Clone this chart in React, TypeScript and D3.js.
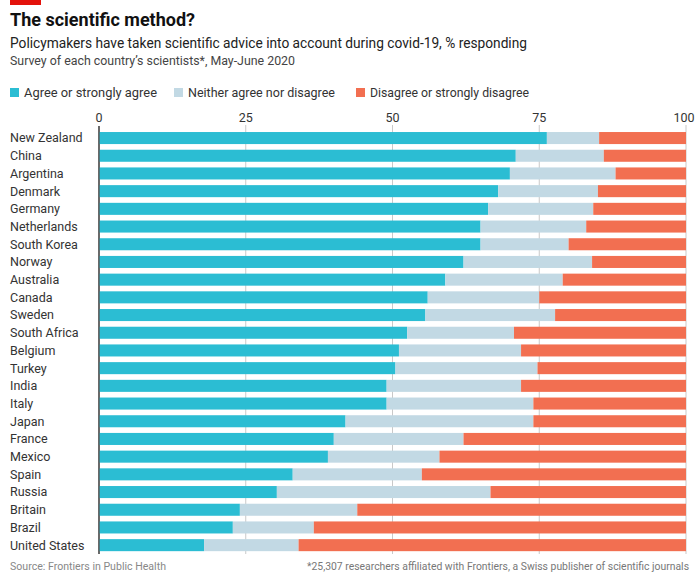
import React from "react";
import * as d3 from "d3";

const countries = ["New Zealand","China","Argentina","Denmark","Germany","Netherlands","South Korea","Norway","Australia","Canada","Sweden","South Africa","Belgium","Turkey","India","Italy","Japan","France","Mexico","Spain","Russia","Britain","Brazil","United States"];
const agree = [76.3,71,70,68,66.3,65,65,62.1,59,56,55.6,52.5,51.1,50.5,49,49,42,40,39,33,30.3,24,22.8,17.9];
const neither = [8.9,15,18,17,17.9,18,15,21.9,20,19,22.1,18.2,20.8,24.2,22.9,25,32,22.1,19,22,36.4,20,13.8,16.1];
const disagree = agree.map((a, i) => 100 - a - neither[i]);
const ticks = [0, 25, 50, 75, 100];
const seriesNames = ["Agree or strongly agree", "Neither agree nor disagree", "Disagree or strongly disagree"];
const colors = ["#2bbdd3", "#c2d9e4", "#f26f51"];

export default function App() {
  const W = 695, H = 574;
  const x = d3.scaleLinear().domain([0, 100]).range([99, 686]);
  const y = d3.scaleBand<string>().domain(countries).range([129.2, 554]).paddingInner(0.32).paddingOuter(0.16);
  const rows = countries.map((c, i) => ({ c, vals: [agree[i], neither[i], disagree[i]] }));
  const font = "Roboto, 'Open Sans', sans-serif";
  const legendX = [10, 174, 356];
  const legendLen = [133, 147, 159];
  return (
    <svg width={W} height={H} style={{ position: "absolute", left: 0, top: 0, background: "#fff" }} fontFamily={font}>
      <rect x={10} y={0} width={31} height={5} fill="#e3120b" />
      <text x={10} y={26} fontSize={18} fontWeight={700} fill="#111">The scientific method?</text>
      <text x={10} y={48} fontSize={15} fill="#222" textLength={517} lengthAdjust="spacingAndGlyphs">Policymakers have taken scientific advice into account during covid-19, % responding</text>
      <text x={10} y={65} fontSize={12.5} fill="#444" textLength={285} lengthAdjust="spacingAndGlyphs">Survey of each country’s scientists*, May-June 2020</text>
      {seriesNames.map((s, i) => (
        <g key={s}>
          <rect x={legendX[i]} y={88} width={9} height={9} fill={colors[i]} />
          <text x={legendX[i] + 14} y={97} fontSize={13} fill="#333" textLength={legendLen[i]} lengthAdjust="spacingAndGlyphs">{s}</text>
        </g>
      ))}
      {ticks.map(t => (
        <g key={t}>
          <text x={t === 100 ? x(t) - 2 : x(t)} y={122} fontSize={12.5} textAnchor="middle" fill="#333">{t}</text>
          <line x1={x(t)} x2={x(t)} y1={t === 0 ? 126 : 125} y2={554} stroke={t === 0 ? "#555" : "#c9c9c9"} strokeWidth={t === 0 ? 1.3 : 1} />
        </g>
      ))}
      {rows.map(r => {
        let acc = 0;
        return (
          <g key={r.c}>
            {r.vals.map((v, k) => {
              const x0 = acc; acc += v;
              return <rect key={k} x={x(x0)} y={y(r.c)} width={x(acc) - x(x0)} height={y.bandwidth()} fill={colors[k]} />;
            })}
            <text x={10} y={(y(r.c) as number) + y.bandwidth() / 2} dy="0.35em" fontSize={12.5} fill="#333">{r.c}</text>
          </g>
        );
      })}
      <line x1={x(0)} x2={x(0)} y1={126} y2={554} stroke="#555" strokeWidth={1.3} />
      <text x={10} y={570} fontSize={11} fill="#888" textLength={156} lengthAdjust="spacingAndGlyphs">Source: Frontiers in Public Health</text>
      <text x={307} y={570} fontSize={10.3} fill="#777" textLength={382} lengthAdjust="spacingAndGlyphs">*25,307 researchers affiliated with Frontiers, a Swiss publisher of scientific journals</text>
    </svg>
  );
}
